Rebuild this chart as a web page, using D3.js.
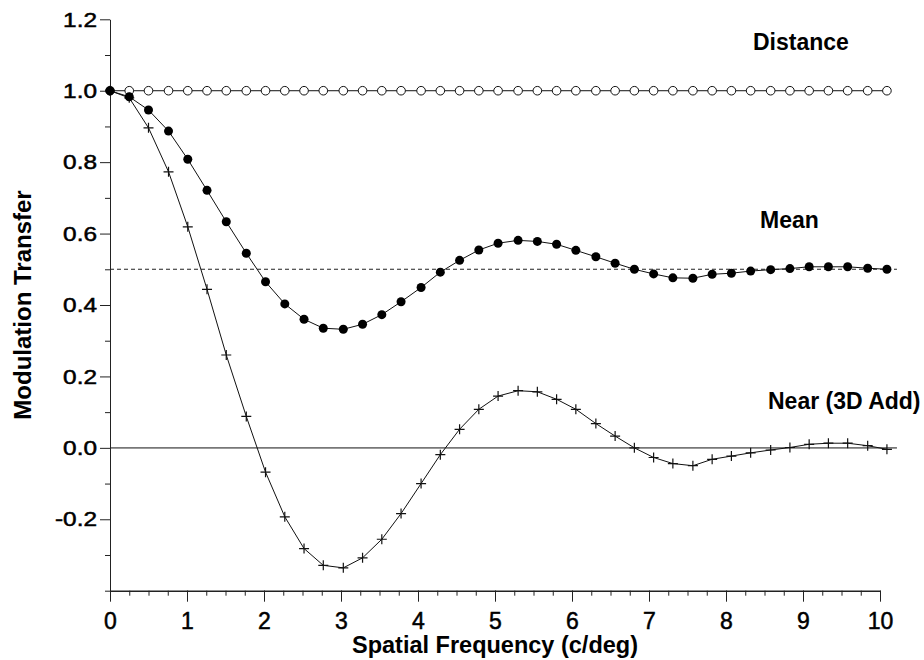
<!DOCTYPE html>
<html>
<head>
<meta charset="utf-8">
<script src="https://cdn.jsdelivr.net/npm/d3@7/dist/d3.min.js"></script>
<style>
  html, body { margin: 0; padding: 0; background: #fff; }
  svg { display: block; }
  text { font-family: "Liberation Sans", Arial, Helvetica, sans-serif; fill: #000; }
</style>
</head>
<body>
<svg id="chart" width="924" height="660"></svg>
<script>
// Spatial frequency samples (c/deg)
const freq = [0, 0.25, 0.50, 0.76, 1.01, 1.26, 1.51, 1.77, 2.02, 2.27,
  2.52, 2.77, 3.03, 3.28, 3.53, 3.78, 4.04, 4.29, 4.54, 4.79,
  5.04, 5.30, 5.55, 5.80, 6.05, 6.31, 6.56, 6.81, 7.06, 7.31,
  7.57, 7.82, 8.07, 8.32, 8.58, 8.83, 9.08, 9.33, 9.58, 9.84, 10.09];

// Modulation transfer for each condition
const distance = freq.map(() => 1.0);
const mean = [1.000, 0.983, 0.946, 0.887, 0.808, 0.721, 0.633, 0.545, 0.465, 0.403,
  0.360, 0.335, 0.332, 0.346, 0.373, 0.409, 0.449, 0.492, 0.525, 0.554,
  0.573, 0.581, 0.578, 0.570, 0.553, 0.535, 0.517, 0.500, 0.487, 0.476,
  0.475, 0.486, 0.489, 0.495, 0.499, 0.502, 0.507, 0.507, 0.507, 0.503, 0.500];
const near = [1.000, 0.980, 0.896, 0.773, 0.619, 0.444, 0.260, 0.088, -0.068, -0.193,
  -0.282, -0.329, -0.336, -0.308, -0.256, -0.184, -0.100, -0.019, 0.052, 0.108,
  0.145, 0.160, 0.157, 0.136, 0.108, 0.068, 0.033, 0.000, -0.027, -0.044,
  -0.050, -0.032, -0.023, -0.014, -0.006, 0.001, 0.010, 0.013, 0.013, 0.006, -0.004];

// Axis ticks and labels
const xTicks = [0, 1, 2, 3, 4, 5, 6, 7, 8, 9, 10];
const xMinorTicks = d3.range(0, 41).map(i => i * 0.25);
const yTicks = [-0.2, 0.0, 0.2, 0.4, 0.6, 0.8, 1.0, 1.2];
const yTickLabels = ["-0.2", "0.0", "0.2", "0.4", "0.6", "0.8", "1.0", "1.2"];
const yMinorTicks = [-0.4, -0.3, -0.1, 0.1, 0.3, 0.5, 0.7, 0.9, 1.1];
const refLevels = [0.0, 0.5];
const refEnd = 10.22;

const seriesLabels = [
  { text: "Distance", x: 753, y: 50 },
  { text: "Mean", x: 760, y: 228 },
  { text: "Near (3D Add)", x: 768, y: 409 }
];

const svg = d3.select("#chart");
const x = d3.scaleLinear().domain([0, 10]).range([110, 880]);
const y = d3.scaleLinear().domain([-0.4, 1.2]).range([590.7, 19.3]);

// Reference lines: zero (solid grey) and half-modulation (dashed)
svg.append("line")
  .attr("x1", x(0)).attr("x2", x(refEnd))
  .attr("y1", y(refLevels[0])).attr("y2", y(refLevels[0]))
  .attr("stroke", "#777").attr("stroke-width", 1.6);
svg.append("line")
  .attr("x1", x(0)).attr("x2", x(refEnd))
  .attr("y1", y(refLevels[1])).attr("y2", y(refLevels[1]))
  .attr("stroke", "#222").attr("stroke-width", 1.1)
  .attr("stroke-dasharray", "4,3");

// Axes
const yAxis = svg.append("g").attr("transform", `translate(${x(0)},0)`);
yAxis.call(d3.axisLeft(y).tickValues(yMinorTicks).tickSize(5).tickFormat(""));
yAxis.call(g => g.select(".domain").remove());
const yMajor = svg.append("g").attr("transform", `translate(${x(0)},0)`)
  .call(d3.axisLeft(y).tickValues(yTicks).tickSize(10).tickSizeOuter(0)
    .tickFormat((d, i) => yTickLabels[i]));
yMajor.selectAll("text")
  .style("font-size", "20px")
  .attr("x", null).attr("dy", null)
  .attr("dominant-baseline", "central")
  .attr("stroke", "#000").attr("stroke-width", 0.5)
  .attr("transform", "translate(-13,0) scale(1.22,1)");

const xAxis = svg.append("g").attr("transform", `translate(0,${y(-0.4)})`);
xAxis.call(d3.axisBottom(x).tickValues(xMinorTicks).tickSize(5).tickFormat(""));
xAxis.call(g => g.select(".domain").remove());
const xMajor = svg.append("g").attr("transform", `translate(0,${y(-0.4)})`)
  .call(d3.axisBottom(x).tickValues(xTicks).tickSize(11).tickSizeOuter(0)
    .tickFormat(d3.format("d")));
xMajor.selectAll("text")
  .style("font-size", "23px")
  .attr("stroke", "#000").attr("stroke-width", 0.5)
  .attr("dy", null).attr("y", 38.5);
xMajor.select(".domain").attr("stroke-width", 1.6);

svg.selectAll(".tick line").attr("stroke", "#222");
svg.selectAll(".domain").attr("stroke", "#222");

// Axis titles
svg.append("text")
  .attr("x", (x(0) + x(10)) / 2).attr("y", 653)
  .attr("text-anchor", "middle")
  .style("font-size", "23.5px").style("font-weight", "bold")
  .text("Spatial Frequency (c/deg)");
svg.append("text")
  .attr("transform", `translate(31,${(y(-0.4) + y(1.2)) / 2}) rotate(-90)`)
  .attr("text-anchor", "middle")
  .style("font-size", "24px").style("font-weight", "bold")
  .text("Modulation Transfer");

const line = d3.line().x(d => x(d[0])).y(d => y(d[1]));
const pts = vals => freq.map((f, i) => [f, vals[i]]);

// Distance: open circles
svg.append("path").datum(pts(distance))
  .attr("d", line).attr("fill", "none").attr("stroke", "#111").attr("stroke-width", 1);
svg.append("g").selectAll("circle").data(pts(distance)).join("circle")
  .attr("cx", d => x(d[0])).attr("cy", d => y(d[1])).attr("r", 4.3)
  .attr("fill", "#fff").attr("stroke", "#111").attr("stroke-width", 1);

// Near (3D Add): crosses
svg.append("path").datum(pts(near))
  .attr("d", line).attr("fill", "none").attr("stroke", "#111").attr("stroke-width", 1);
svg.append("g").selectAll("path").data(pts(near)).join("path")
  .attr("transform", d => `translate(${x(d[0])},${y(d[1])})`)
  .attr("d", "M-5,0H5M0,-5V5")
  .attr("stroke", "#111").attr("stroke-width", 1.2).attr("fill", "none");

// Mean: filled circles
svg.append("path").datum(pts(mean))
  .attr("d", line).attr("fill", "none").attr("stroke", "#111").attr("stroke-width", 1);
svg.append("g").selectAll("circle").data(pts(mean)).join("circle")
  .attr("cx", d => x(d[0])).attr("cy", d => y(d[1])).attr("r", 4.5)
  .attr("fill", "#000");

// Series labels
svg.append("g").selectAll("text").data(seriesLabels).join("text")
  .attr("x", d => d.x).attr("y", d => d.y)
  .style("font-size", "23px").style("font-weight", "bold")
  .text(d => d.text);
</script>
</body>
</html>
